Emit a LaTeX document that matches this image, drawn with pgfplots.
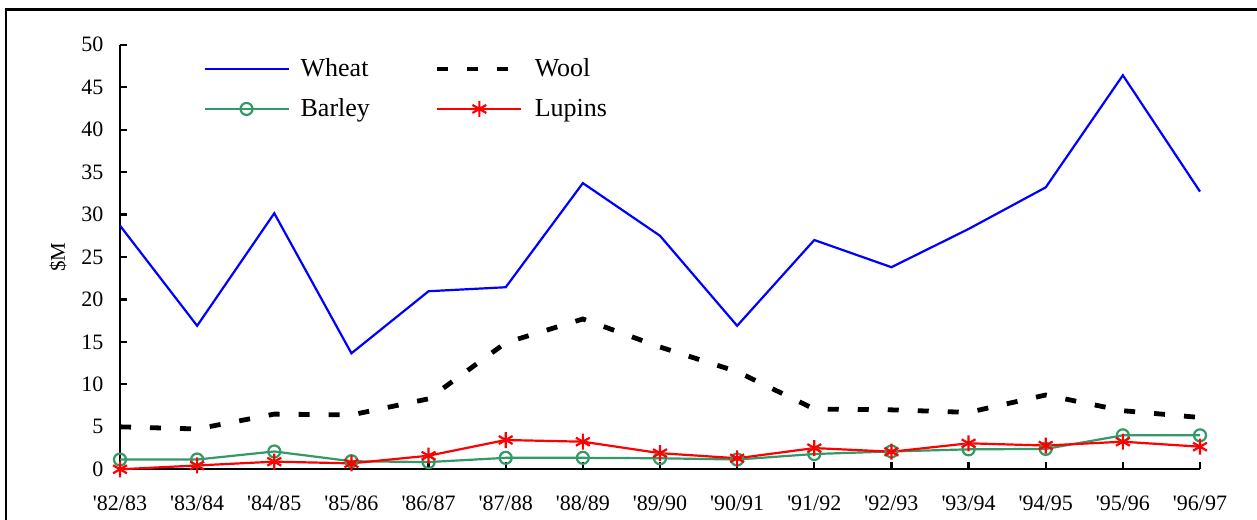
\documentclass[border=0pt]{standalone}
\usepackage{pgfplots}
\pgfplotsset{compat=1.18}
\usepackage{fontspec}
\setmainfont{Liberation Serif}
\definecolor{barleygreen}{RGB}{51,153,102}
\newcommand{\q}{\textquotesingle}
\begin{document}
\begin{tikzpicture}
\path[use as bounding box] (-60bp,-25.35bp) rectangle (568.5bp,234.65bp);
\draw[line width=1.2bp] (-57bp,229.9bp) rectangle (600bp,-60bp);
\begin{axis}[
  at={(0,0)}, anchor=south west,
  scale only axis, width=540bp, height=212.3bp,
  xmin=0, xmax=14, ymin=0, ymax=50,
  axis lines=left,
  axis line style={-, line width=1.1bp, black},
  tick style={line width=1.1bp, black},
  tick align=inside,
  major tick length=3.5bp,
  xtick={0,...,14},
  xticklabels={\q82/83,\q83/84,\q84/85,\q85/86,\q86/87,\q87/88,\q88/89,\q89/90,\q90/91,\q91/92,\q92/93,\q93/94,\q94/95,\q95/96,\q96/97},
  ytick={0,5,...,50},
  /pgf/number format/assume math mode=true,
  ticklabel style={font=\fontsize{11bp}{13bp}\selectfont},
  xticklabel style={yshift=-10bp},
  yticklabel style={xshift=-4.8bp},
  ylabel={\$M},
  ylabel style={at={(rel axis cs:0,0.5)}, anchor=center, yshift=31bp, font=\fontsize{10.5bp}{12bp}\selectfont},
  clip=false,
  legend columns=2,
  legend cell align=left,
  legend style={draw=none, fill=none, inner sep=0pt,
    at={(rel axis cs:0.0769,0.978)}, anchor=north west,
    font=\fontsize{13bp}{15bp}\selectfont,
    row sep=5.5bp,
    nodes={inner xsep=5.5bp},
    /tikz/every even column/.append style={column sep=27bp}},
  legend image code/.code={%
    \draw[mark repeat=2,mark phase=2,#1] plot coordinates {(0bp,0bp) (21bp,0bp) (42bp,0bp)};},
]
\addplot[color=blue, line width=1.1bp] coordinates {
(0,28.7) (1,16.9) (2,30.15) (3,13.66) (4,20.97) (5,21.44) (6,33.7) (7,27.5) (8,16.9) (9,27.0) (10,23.8) (11,28.3) (12,33.2) (13,46.4) (14,32.7)};
\addlegendentry{Wheat}
\addplot[color=black, line width=2.4bp, dash pattern=on 5.5bp off 9.5bp] coordinates {
(0,5.0) (1,4.75) (2,6.5) (3,6.4) (4,8.3) (5,14.9) (6,17.7) (7,14.4) (8,11.5) (9,7.1) (10,7.0) (11,6.7) (12,8.75) (13,6.9) (14,6.1)};
\addlegendentry{Wool}
\addplot[color=barleygreen, line width=1.1bp, mark=o, mark size=3bp, mark options={solid, fill=white, line width=1.1bp}] coordinates {
(0,1.15) (1,1.15) (2,2.1) (3,0.95) (4,0.85) (5,1.35) (6,1.35) (7,1.3) (8,1.15) (9,1.8) (10,2.1) (11,2.35) (12,2.4) (13,4.0) (14,4.0)};
\addlegendentry{Barley}
\addplot[color=red, line width=1.1bp, mark=asterisk, mark size=4bp, mark options={solid, line width=1.1bp}] coordinates {
(0,0.0) (1,0.45) (2,0.9) (3,0.7) (4,1.6) (5,3.45) (6,3.25) (7,1.9) (8,1.3) (9,2.5) (10,2.07) (11,3.06) (12,2.8) (13,3.25) (14,2.66)};
\addlegendentry{Lupins}
\end{axis}
\end{tikzpicture}
\end{document}
